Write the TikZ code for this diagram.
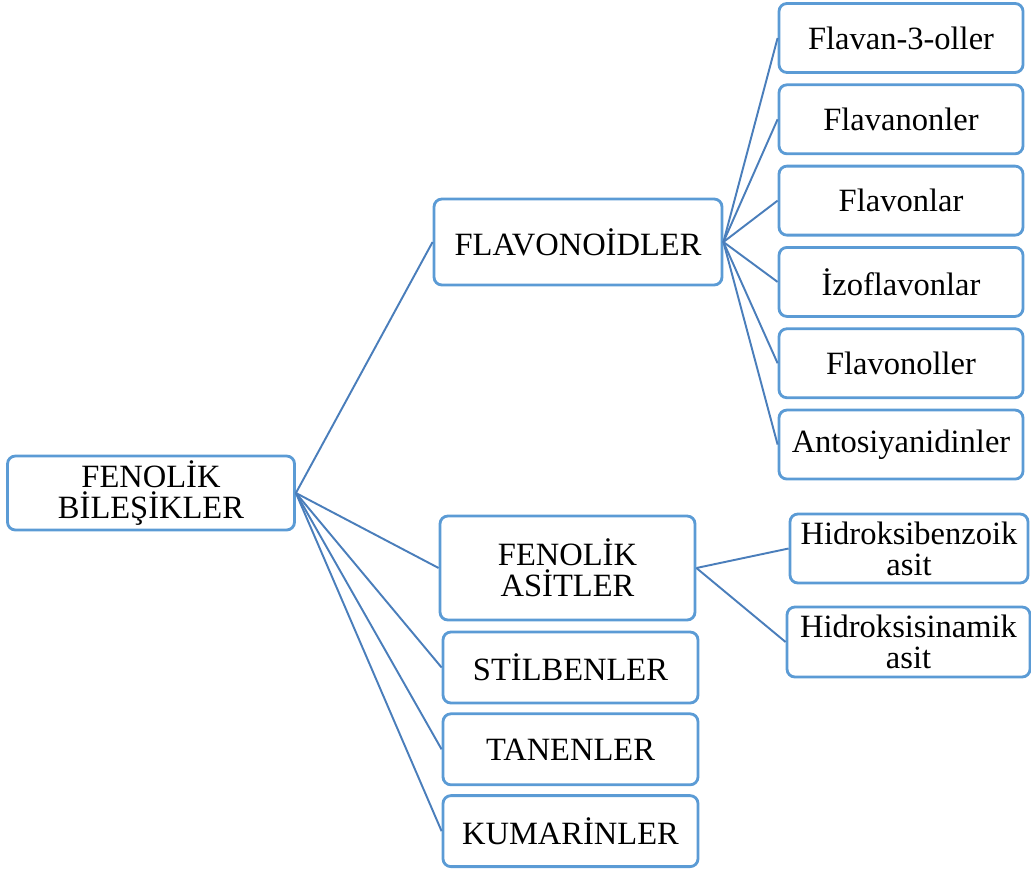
\documentclass[tikz,border=0pt]{standalone}
\usepackage{fontspec}
\setmainfont{Liberation Serif}
\usepackage{tikz}
\usetikzlibrary{positioning}
\definecolor{BoxBlue}{HTML}{5B9BD5}
\definecolor{LineBlue}{HTML}{4A7EBB}

\begin{document}
\begin{tikzpicture}[
node distance=0.19cm,
box/.style={draw=BoxBlue, line width=1.6pt, rounded corners=4.5pt, fill=white, align=center, inner sep=0pt, font=\fontsize{18.5}{17.6}\selectfont},
leaf/.style={box, minimum width=4.88cm, minimum height=1.38cm},
group/.style={box, minimum width=5.1cm, minimum height=1.42cm},
link/.style={LineBlue, line width=1.1pt}
]
\useasboundingbox (0,0) rectangle (20.62,-17.38);
\node[box, minimum width=5.74cm, minimum height=1.48cm] (fenolik) at (3.02,-9.86) {FENOLİK\\BİLEŞİKLER};
\node[box, minimum width=5.76cm, minimum height=1.72cm] (flavonoid) at (11.56,-4.84) {FLAVONOİDLER};
\node[box, minimum width=5.1cm, minimum height=2.08cm] (asit) at (11.35,-11.36) {FENOLİK\\ASİTLER};
\node[group] (stilben) at (11.41,-13.35) {STİLBENLER};
\node[group, below=0.16cm of stilben] (tanen) {TANENLER};
\node[group, below=0.16cm of tanen] (kumarin) {KUMARİNLER};
% flavonoid alt gruplari
\node[leaf] (flavanol) at (18.02,-0.76) {Flavan-3-oller};
\node[leaf, below=of flavanol] (flavanon) {Flavanonler};
\node[leaf, below=of flavanon] (flavon) {Flavonlar};
\node[leaf, below=of flavon] (izoflavon) {İzoflavonlar};
\node[leaf, below=of izoflavon] (flavonol) {Flavonoller};
\node[leaf, below=of flavonol] (antosiyan) {Antosiyanidinler};
% fenolik asit alt gruplari
\node[box, minimum width=4.76cm, minimum height=1.38cm] (benzoik) at (18.18,-10.97) {Hidroksibenzoik\\asit};
\node[box, minimum width=4.86cm, minimum height=1.4cm] (sinamik) at (18.17,-12.84) {Hidroksisinamik\\asit};
\foreach \n in {flavonoid,asit,stilben,tanen,kumarin}
  \draw[link] (fenolik.east) -- (\n.west);
\foreach \n in {flavanol,flavanon,flavon,izoflavon,flavonol,antosiyan}
  \draw[link] (flavonoid.east) -- (\n.west);
\foreach \n in {benzoik,sinamik}
  \draw[link] (asit.east) -- (\n.west);
\end{tikzpicture}
\end{document}
